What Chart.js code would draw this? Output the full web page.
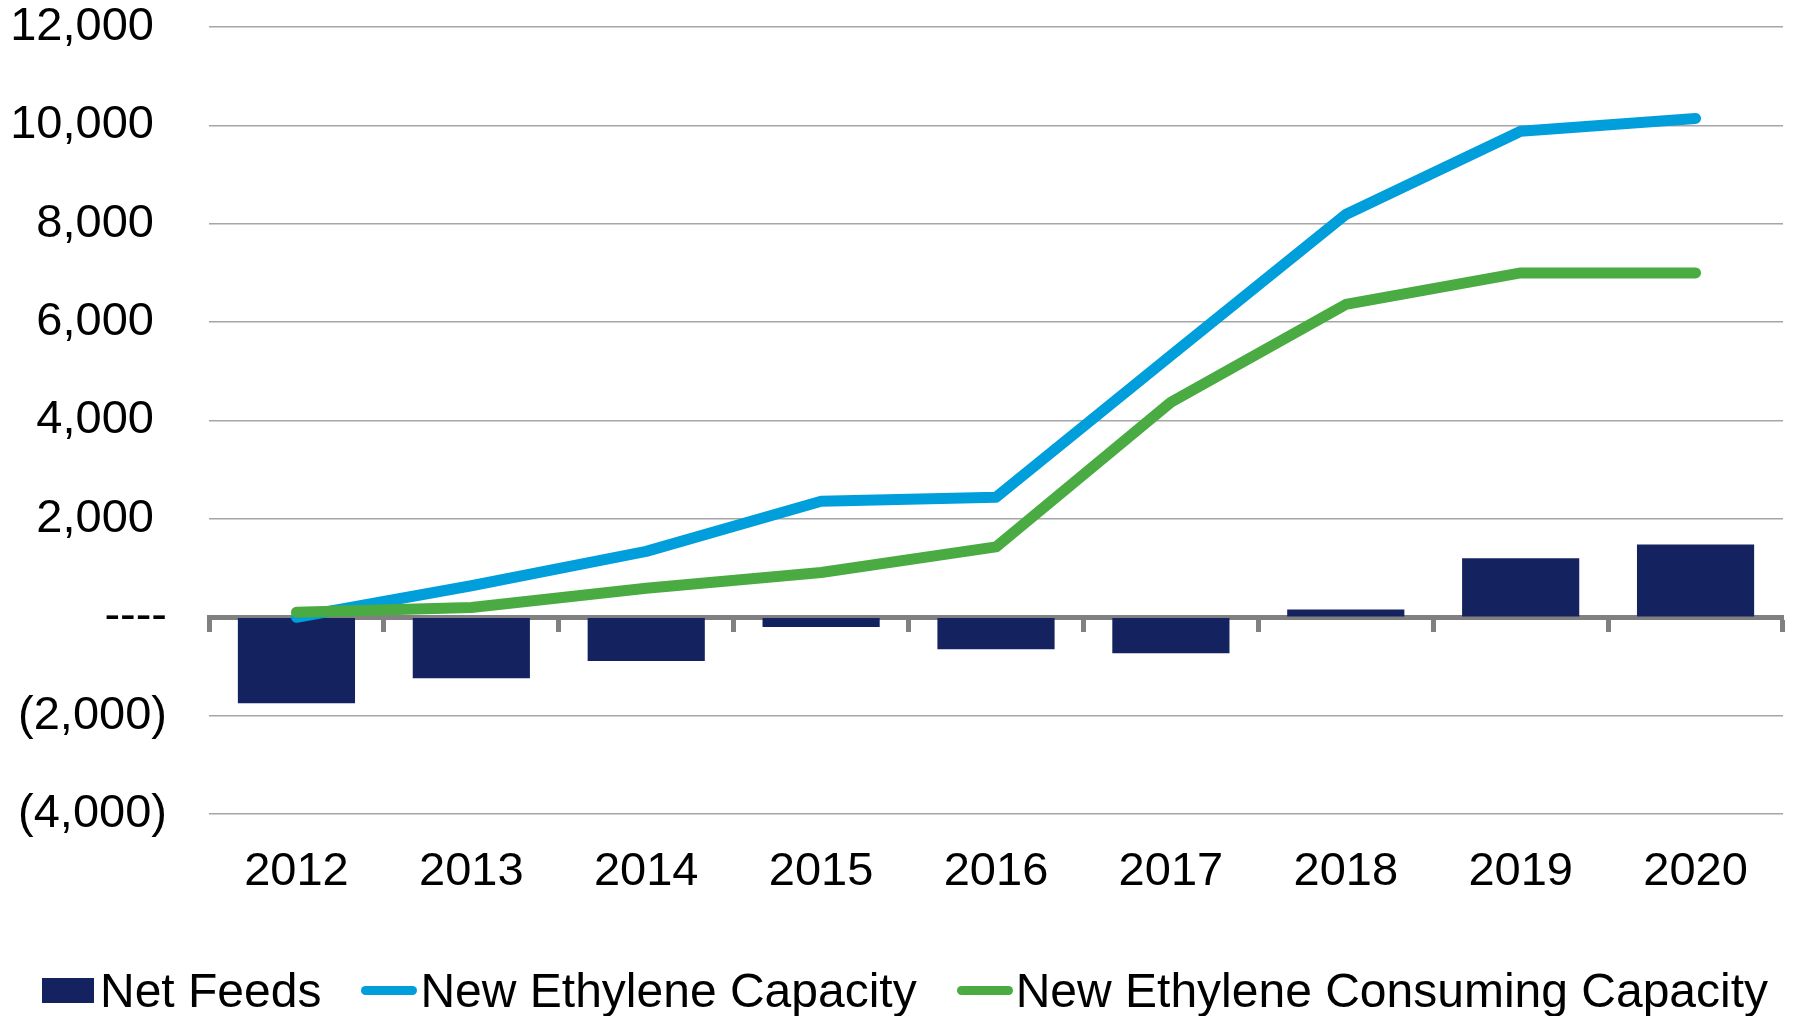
<!DOCTYPE html>
<html>
<head>
<meta charset="utf-8">
<script src="https://cdn.jsdelivr.net/npm/chart.js@4"></script>
<style>
  html, body { margin: 0; padding: 0; background: #fff; }
  #wrap { position: relative; width: 1800px; height: 1016px; }
  #legend {
    position: absolute; left: 42px; top: 960px; height: 60px;
    display: flex; align-items: center;
    font-family: "Liberation Sans", Arial, sans-serif; font-size: 48px; color: #000;
  }
  #legend .item { display: flex; align-items: center; white-space: nowrap; }
  #legend .item + .item { margin-left: 40px; }
  #legend .box { width: 52px; height: 25px; margin-right: 6px; }
  #legend .line { width: 56px; height: 9px; border-radius: 5px; margin-right: 3px; }
</style>
</head>
<body>
<div id="wrap">
  <canvas id="grafica" width="1800" height="1016"></canvas>
  <div id="legend"></div>
</div>
<script>
  const anios = ['2012', '2013', '2014', '2015', '2016', '2017', '2018', '2019', '2020'];
  const netFeeds = [-1750, -1240, -890, -200, -650, -730, 160, 1200, 1480];
  const capacidad = [0, 640, 1340, 2360, 2440, 5320, 8190, 9880, 10140];
  const consumo = [100, 200, 590, 910, 1430, 4370, 6360, 7000, 7000];
  const tickValores = [-4000, -2000, 0, 2000, 4000, 6000, 8000, 10000, 12000];

  const fuente = { family: '"Liberation Sans", Arial, sans-serif', size: 47, lineHeight: 1.15 };

  function formato(v){
    if(v === 0) return '----';
    const n = Math.abs(v).toLocaleString('en-US');
    return v < 0 ? '(' + n + ')' : n + ' ';
  }

  const ctx = document.getElementById('grafica');
  const chart = new Chart(ctx, {
    type: 'bar',
    data: {
      labels: anios,
      datasets: [
        {
          type: 'line',
          label: 'New Ethylene Consuming Capacity',
          data: consumo,
          borderColor: '#4aab43',
          backgroundColor: '#4aab43',
          borderWidth: 11,
          borderCapStyle: 'round',
          borderJoinStyle: 'round',
          pointRadius: 0,
          tension: 0,
          order: 0
        },
        {
          type: 'line',
          label: 'New Ethylene Capacity',
          data: capacidad,
          borderColor: '#009fdc',
          backgroundColor: '#009fdc',
          borderWidth: 11,
          borderCapStyle: 'round',
          borderJoinStyle: 'round',
          pointRadius: 0,
          tension: 0,
          order: 1
        },
        {
          label: 'Net Feeds',
          data: netFeeds,
          backgroundColor: '#14235f',
          borderWidth: 0,
          barPercentage: 0.67,
          categoryPercentage: 1,
          order: 2
        }
      ]
    },
    options: {
      responsive: false,
      animation: false,
      layout: { padding: { left: 0, right: 17, top: 0, bottom: 82 } },
      plugins: {
        legend: { display: false },
        tooltip: { enabled: false }
      },
      scales: {
        x: {
          position: 'bottom',
          offset: true,
          grid: { display: false, drawTicks: false },
          border: { display: false },
          ticks: { font: fuente, color: '#000', padding: 31, maxRotation: 0 },
          afterFit: s => { s.height = 120; }
        },
        x0: {
          type: 'category',
          labels: anios,
          position: { y: 0 },
          offset: true,
          grid: { offset: true, drawOnChartArea: false, drawTicks: true, tickLength: 12, tickWidth: 5, color: '#808080' },
          border: { display: true, color: '#808080', width: 5 },
          ticks: { display: false }
        },
        y: {
          min: tickValores[0],
          max: tickValores[tickValores.length - 1],
          afterBuildTicks: s => { s.ticks = tickValores.map(v => ({ value: v })); },
          // marca de tick invisible para separar las etiquetas del area
          grid: { color: '#a6a6a6', lineWidth: 1.5, drawTicks: true, tickLength: 42, tickColor: 'rgba(0,0,0,0)' },
          border: { display: false },
          ticks: { font: fuente, color: '#000', padding: 0, callback: v => formato(v) },
          afterFit: s => { s.width = 209; }
        }
      }
    }
  });

  // leyenda en HTML, hecha con los datasets del chart
  const leyenda = document.getElementById('legend');
  [2, 1, 0].forEach(i => {
    const ds = chart.data.datasets[i];
    const item = document.createElement('div');
    item.className = 'item';
    const marca = document.createElement('span');
    marca.className = ds.type === 'line' ? 'line' : 'box';
    marca.style.background = ds.backgroundColor;
    const txt = document.createElement('span');
    txt.textContent = ds.label;
    item.appendChild(marca);
    item.appendChild(txt);
    leyenda.appendChild(item);
  });
</script>
</body>
</html>
